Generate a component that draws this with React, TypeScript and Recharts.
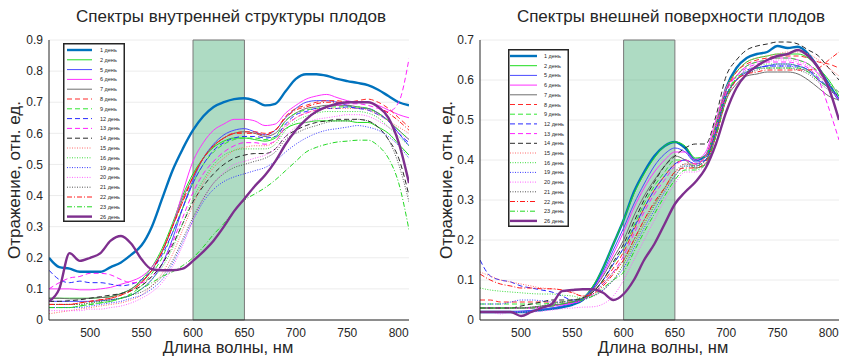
import { CartesianGrid, Line, LineChart, ReferenceArea, XAxis, YAxis } from "recharts";

// wavelength grid, nm
const WAVELENGTHS = [
  460, 470, 480, 490, 500, 510, 520, 530, 540, 550,
  560, 570, 580, 590, 600, 610, 620, 630, 640, 650,
  660, 670, 680, 690, 700, 710, 720, 730, 740, 750,
  760, 770, 780, 790, 800, 810,
];

const X_TICKS = [500, 550, 600, 650, 700, 750, 800];
const Y_TICKS_INNER = [0, 0.1, 0.2, 0.3, 0.4, 0.5, 0.6, 0.7, 0.8, 0.9];
const Y_TICKS_OUTER = [0, 0.1, 0.2, 0.3, 0.4, 0.5, 0.6, 0.7];

// inner structure spectra
const IN_1 = [0.20, 0.17, 0.165, 0.155, 0.155, 0.155, 0.17, 0.185, 0.21, 0.24, 0.30, 0.39, 0.48, 0.55, 0.61, 0.655, 0.685, 0.70, 0.71, 0.713, 0.705, 0.69, 0.695, 0.735, 0.775, 0.79, 0.79, 0.785, 0.775, 0.768, 0.762, 0.755, 0.74, 0.72, 0.70, 0.69];
const IN_2 = [0.07, 0.07, 0.07, 0.07, 0.07, 0.072, 0.075, 0.085, 0.10, 0.13, 0.17, 0.23, 0.31, 0.40, 0.47, 0.52, 0.555, 0.575, 0.585, 0.585, 0.58, 0.575, 0.585, 0.615, 0.63, 0.635, 0.64, 0.64, 0.64, 0.64, 0.635, 0.635, 0.62, 0.60, 0.565, 0.53];
const IN_5 = [0.06, 0.06, 0.06, 0.06, 0.06, 0.062, 0.065, 0.07, 0.08, 0.10, 0.13, 0.18, 0.26, 0.36, 0.45, 0.52, 0.565, 0.595, 0.61, 0.615, 0.605, 0.595, 0.61, 0.65, 0.68, 0.70, 0.705, 0.705, 0.70, 0.69, 0.68, 0.68, 0.665, 0.64, 0.60, 0.56];
const IN_6 = [0.10, 0.10, 0.10, 0.097, 0.097, 0.10, 0.105, 0.115, 0.125, 0.14, 0.17, 0.22, 0.30, 0.41, 0.51, 0.57, 0.61, 0.63, 0.645, 0.645, 0.64, 0.625, 0.63, 0.665, 0.69, 0.71, 0.72, 0.725, 0.715, 0.705, 0.70, 0.70, 0.69, 0.675, 0.66, 0.65];
const IN_7 = [0.07, 0.07, 0.068, 0.068, 0.07, 0.072, 0.075, 0.085, 0.10, 0.125, 0.16, 0.22, 0.30, 0.39, 0.46, 0.52, 0.56, 0.585, 0.60, 0.605, 0.60, 0.59, 0.60, 0.64, 0.665, 0.68, 0.685, 0.69, 0.69, 0.69, 0.685, 0.68, 0.665, 0.64, 0.61, 0.58];
const IN_8 = [0.05, 0.05, 0.05, 0.055, 0.06, 0.065, 0.07, 0.08, 0.095, 0.12, 0.16, 0.22, 0.30, 0.38, 0.46, 0.52, 0.56, 0.585, 0.60, 0.605, 0.605, 0.60, 0.61, 0.655, 0.68, 0.69, 0.70, 0.705, 0.705, 0.70, 0.705, 0.71, 0.70, 0.68, 0.65, 0.62];
const IN_9 = [0.04, 0.04, 0.04, 0.045, 0.05, 0.055, 0.06, 0.07, 0.085, 0.11, 0.15, 0.20, 0.28, 0.36, 0.44, 0.50, 0.54, 0.565, 0.58, 0.585, 0.585, 0.58, 0.59, 0.64, 0.665, 0.675, 0.68, 0.685, 0.685, 0.685, 0.685, 0.68, 0.665, 0.64, 0.61, 0.58];
const IN_12 = [0.16, 0.13, 0.12, 0.125, 0.12, 0.12, 0.115, 0.11, 0.115, 0.13, 0.16, 0.21, 0.28, 0.36, 0.44, 0.50, 0.545, 0.57, 0.585, 0.59, 0.59, 0.585, 0.59, 0.63, 0.66, 0.67, 0.68, 0.68, 0.68, 0.685, 0.68, 0.675, 0.66, 0.64, 0.60, 0.57];
const IN_13 = [0.10, 0.12, 0.135, 0.14, 0.15, 0.15, 0.145, 0.13, 0.12, 0.12, 0.14, 0.18, 0.25, 0.33, 0.41, 0.47, 0.51, 0.54, 0.56, 0.57, 0.57, 0.565, 0.575, 0.62, 0.65, 0.665, 0.675, 0.685, 0.69, 0.695, 0.695, 0.69, 0.68, 0.67, 0.70, 0.84];
const IN_14 = [0.06, 0.06, 0.062, 0.065, 0.07, 0.075, 0.08, 0.085, 0.095, 0.11, 0.14, 0.18, 0.24, 0.31, 0.38, 0.43, 0.47, 0.50, 0.52, 0.53, 0.535, 0.535, 0.55, 0.59, 0.61, 0.625, 0.635, 0.64, 0.645, 0.645, 0.645, 0.64, 0.62, 0.58, 0.52, 0.40];
const IN_15 = [0.02, 0.025, 0.03, 0.035, 0.04, 0.045, 0.05, 0.055, 0.065, 0.08, 0.11, 0.15, 0.21, 0.29, 0.37, 0.44, 0.49, 0.52, 0.545, 0.555, 0.56, 0.56, 0.575, 0.625, 0.65, 0.665, 0.675, 0.68, 0.68, 0.68, 0.68, 0.675, 0.66, 0.64, 0.62, 0.60];
const IN_16 = [0.05, 0.05, 0.05, 0.05, 0.055, 0.06, 0.065, 0.07, 0.08, 0.10, 0.13, 0.17, 0.23, 0.31, 0.39, 0.45, 0.50, 0.53, 0.545, 0.55, 0.55, 0.55, 0.565, 0.61, 0.64, 0.655, 0.665, 0.67, 0.67, 0.67, 0.67, 0.665, 0.65, 0.62, 0.59, 0.56];
const IN_19 = [0.04, 0.04, 0.04, 0.04, 0.045, 0.05, 0.055, 0.06, 0.07, 0.08, 0.10, 0.13, 0.18, 0.25, 0.32, 0.38, 0.42, 0.445, 0.46, 0.47, 0.48, 0.49, 0.51, 0.54, 0.565, 0.585, 0.60, 0.61, 0.615, 0.62, 0.625, 0.62, 0.61, 0.59, 0.56, 0.52];
const IN_20 = [0.03, 0.03, 0.03, 0.03, 0.035, 0.035, 0.04, 0.045, 0.055, 0.07, 0.09, 0.12, 0.17, 0.24, 0.32, 0.39, 0.44, 0.475, 0.50, 0.51, 0.52, 0.53, 0.55, 0.59, 0.62, 0.635, 0.645, 0.65, 0.655, 0.66, 0.66, 0.655, 0.64, 0.62, 0.60, 0.58];
const IN_21 = [0.05, 0.05, 0.05, 0.05, 0.055, 0.06, 0.065, 0.07, 0.08, 0.09, 0.11, 0.14, 0.19, 0.26, 0.33, 0.39, 0.44, 0.47, 0.49, 0.50, 0.51, 0.52, 0.54, 0.58, 0.60, 0.615, 0.625, 0.635, 0.64, 0.64, 0.645, 0.64, 0.62, 0.58, 0.50, 0.38];
const IN_22 = [0.05, 0.05, 0.05, 0.055, 0.06, 0.065, 0.07, 0.08, 0.095, 0.12, 0.16, 0.22, 0.30, 0.38, 0.46, 0.52, 0.56, 0.585, 0.60, 0.60, 0.60, 0.595, 0.61, 0.65, 0.675, 0.685, 0.695, 0.70, 0.70, 0.70, 0.70, 0.70, 0.685, 0.665, 0.64, 0.61];
const IN_23 = [0.04, 0.04, 0.04, 0.045, 0.05, 0.055, 0.06, 0.07, 0.08, 0.10, 0.12, 0.14, 0.155, 0.175, 0.20, 0.235, 0.275, 0.31, 0.35, 0.385, 0.405, 0.425, 0.45, 0.48, 0.51, 0.54, 0.555, 0.565, 0.572, 0.575, 0.578, 0.578, 0.56, 0.52, 0.44, 0.29];
const IN_26 = [0.06, 0.10, 0.215, 0.19, 0.20, 0.215, 0.255, 0.27, 0.245, 0.195, 0.163, 0.16, 0.16, 0.165, 0.19, 0.22, 0.255, 0.30, 0.35, 0.39, 0.43, 0.465, 0.51, 0.565, 0.61, 0.645, 0.67, 0.685, 0.695, 0.70, 0.70, 0.70, 0.685, 0.65, 0.57, 0.44];

// outer surface spectra
const OUT_1 = [0.02, 0.02, 0.02, 0.02, 0.02, 0.022, 0.025, 0.028, 0.032, 0.038, 0.05, 0.08, 0.13, 0.19, 0.25, 0.32, 0.37, 0.41, 0.435, 0.445, 0.43, 0.40, 0.41, 0.48, 0.58, 0.63, 0.655, 0.665, 0.67, 0.685, 0.68, 0.683, 0.665, 0.63, 0.59, 0.55];
const OUT_2 = [0.03, 0.03, 0.03, 0.03, 0.03, 0.03, 0.032, 0.035, 0.04, 0.045, 0.055, 0.085, 0.13, 0.19, 0.25, 0.315, 0.365, 0.405, 0.435, 0.445, 0.435, 0.405, 0.41, 0.49, 0.58, 0.62, 0.645, 0.655, 0.66, 0.665, 0.665, 0.665, 0.655, 0.63, 0.60, 0.56];
const OUT_5 = [0.02, 0.02, 0.02, 0.02, 0.022, 0.024, 0.027, 0.03, 0.035, 0.042, 0.055, 0.08, 0.12, 0.175, 0.23, 0.29, 0.34, 0.385, 0.415, 0.43, 0.42, 0.395, 0.40, 0.47, 0.56, 0.60, 0.62, 0.63, 0.635, 0.64, 0.64, 0.635, 0.625, 0.60, 0.58, 0.55];
const OUT_6 = [0.03, 0.03, 0.03, 0.03, 0.03, 0.03, 0.032, 0.035, 0.038, 0.042, 0.05, 0.075, 0.115, 0.165, 0.22, 0.28, 0.33, 0.37, 0.40, 0.42, 0.42, 0.40, 0.42, 0.50, 0.58, 0.61, 0.635, 0.645, 0.65, 0.655, 0.655, 0.65, 0.64, 0.615, 0.585, 0.55];
const OUT_7 = [0.03, 0.03, 0.03, 0.03, 0.03, 0.032, 0.035, 0.038, 0.04, 0.045, 0.055, 0.075, 0.11, 0.155, 0.20, 0.26, 0.31, 0.35, 0.385, 0.41, 0.40, 0.38, 0.39, 0.46, 0.55, 0.59, 0.61, 0.615, 0.62, 0.62, 0.62, 0.615, 0.60, 0.58, 0.56, 0.55];
const OUT_8 = [0.05, 0.05, 0.045, 0.045, 0.045, 0.045, 0.045, 0.045, 0.045, 0.045, 0.05, 0.07, 0.095, 0.13, 0.17, 0.225, 0.28, 0.325, 0.36, 0.39, 0.40, 0.39, 0.41, 0.48, 0.57, 0.62, 0.64, 0.65, 0.655, 0.66, 0.66, 0.66, 0.655, 0.645, 0.64, 0.63];
const OUT_9 = [0.04, 0.04, 0.04, 0.04, 0.04, 0.04, 0.04, 0.042, 0.045, 0.05, 0.055, 0.07, 0.10, 0.14, 0.18, 0.235, 0.29, 0.335, 0.37, 0.40, 0.40, 0.385, 0.40, 0.47, 0.56, 0.61, 0.635, 0.645, 0.65, 0.655, 0.655, 0.65, 0.64, 0.62, 0.59, 0.57];
const OUT_12 = [0.15, 0.11, 0.10, 0.095, 0.085, 0.08, 0.075, 0.07, 0.06, 0.05, 0.05, 0.07, 0.10, 0.14, 0.18, 0.23, 0.28, 0.325, 0.36, 0.39, 0.40, 0.39, 0.40, 0.47, 0.56, 0.60, 0.625, 0.63, 0.635, 0.635, 0.635, 0.635, 0.625, 0.605, 0.58, 0.56];
const OUT_13 = [0.03, 0.03, 0.03, 0.03, 0.03, 0.03, 0.032, 0.035, 0.038, 0.042, 0.05, 0.065, 0.09, 0.12, 0.16, 0.215, 0.27, 0.315, 0.35, 0.385, 0.40, 0.39, 0.41, 0.48, 0.57, 0.61, 0.63, 0.64, 0.645, 0.645, 0.645, 0.64, 0.63, 0.60, 0.53, 0.45];
const OUT_14 = [0.03, 0.03, 0.03, 0.03, 0.035, 0.04, 0.045, 0.05, 0.05, 0.05, 0.055, 0.07, 0.10, 0.145, 0.19, 0.245, 0.30, 0.345, 0.385, 0.41, 0.43, 0.44, 0.44, 0.51, 0.61, 0.65, 0.675, 0.685, 0.69, 0.695, 0.695, 0.69, 0.675, 0.66, 0.63, 0.60];
const OUT_15 = [0.12, 0.11, 0.10, 0.095, 0.09, 0.085, 0.08, 0.078, 0.075, 0.07, 0.06, 0.06, 0.075, 0.10, 0.14, 0.19, 0.24, 0.285, 0.325, 0.36, 0.39, 0.39, 0.41, 0.49, 0.58, 0.62, 0.645, 0.655, 0.66, 0.665, 0.67, 0.67, 0.665, 0.65, 0.63, 0.61];
const OUT_16 = [0.08, 0.075, 0.072, 0.07, 0.068, 0.066, 0.065, 0.065, 0.062, 0.06, 0.055, 0.06, 0.075, 0.10, 0.14, 0.19, 0.24, 0.285, 0.33, 0.36, 0.385, 0.38, 0.39, 0.47, 0.56, 0.60, 0.625, 0.635, 0.64, 0.64, 0.64, 0.635, 0.625, 0.61, 0.59, 0.57];
const OUT_19 = [0.04, 0.04, 0.04, 0.045, 0.05, 0.05, 0.048, 0.045, 0.045, 0.045, 0.05, 0.06, 0.075, 0.10, 0.13, 0.18, 0.23, 0.275, 0.32, 0.36, 0.385, 0.385, 0.40, 0.47, 0.56, 0.60, 0.62, 0.63, 0.635, 0.635, 0.635, 0.63, 0.62, 0.60, 0.58, 0.56];
const OUT_20 = [0.02, 0.02, 0.015, 0.02, 0.02, 0.02, 0.022, 0.025, 0.028, 0.03, 0.032, 0.033, 0.04, 0.06, 0.10, 0.15, 0.20, 0.25, 0.30, 0.34, 0.37, 0.37, 0.39, 0.46, 0.55, 0.60, 0.625, 0.635, 0.645, 0.65, 0.65, 0.645, 0.635, 0.615, 0.59, 0.57];
const OUT_21 = [0.03, 0.03, 0.03, 0.03, 0.03, 0.032, 0.035, 0.04, 0.045, 0.05, 0.055, 0.065, 0.09, 0.12, 0.15, 0.20, 0.25, 0.29, 0.33, 0.37, 0.39, 0.385, 0.40, 0.47, 0.56, 0.60, 0.615, 0.625, 0.63, 0.63, 0.63, 0.625, 0.615, 0.595, 0.575, 0.56];
const OUT_22 = [0.115, 0.10, 0.09, 0.085, 0.08, 0.08, 0.078, 0.078, 0.075, 0.068, 0.06, 0.065, 0.085, 0.115, 0.15, 0.20, 0.25, 0.295, 0.33, 0.37, 0.38, 0.38, 0.395, 0.46, 0.55, 0.60, 0.615, 0.62, 0.625, 0.625, 0.625, 0.625, 0.625, 0.63, 0.65, 0.67];
const OUT_23 = [0.03, 0.03, 0.03, 0.03, 0.03, 0.03, 0.032, 0.035, 0.04, 0.045, 0.05, 0.06, 0.08, 0.10, 0.12, 0.17, 0.22, 0.265, 0.31, 0.35, 0.375, 0.375, 0.39, 0.46, 0.55, 0.605, 0.62, 0.63, 0.63, 0.63, 0.63, 0.63, 0.62, 0.60, 0.58, 0.56];
const OUT_26 = [0.02, 0.02, 0.02, 0.02, 0.01, 0.02, 0.03, 0.04, 0.072, 0.075, 0.077, 0.077, 0.068, 0.05, 0.065, 0.10, 0.15, 0.19, 0.24, 0.29, 0.32, 0.345, 0.38, 0.44, 0.52, 0.58, 0.615, 0.635, 0.65, 0.66, 0.665, 0.675, 0.66, 0.63, 0.58, 0.50];

type SeriesStyle = { day: number; color: string; width: number; dash?: string };

const DASH = "5 3";
const DOT = "1 1.5";
const DASHDOT = "5 2 1 2";

const STYLES: SeriesStyle[] = [
  { day: 1, color: "#0072BD", width: 2.4 },
  { day: 2, color: "#1fdc1f", width: 1 },
  { day: 5, color: "#4a4aff", width: 1 },
  { day: 6, color: "#ff30ff", width: 1 },
  { day: 7, color: "#6e6e6e", width: 1 },
  { day: 8, color: "#ff2a2a", width: 1, dash: DASH },
  { day: 9, color: "#33e633", width: 1, dash: DASH },
  { day: 12, color: "#2a2aff", width: 1, dash: DASH },
  { day: 13, color: "#ff20ff", width: 1, dash: DASH },
  { day: 14, color: "#2b2b2b", width: 1, dash: DASH },
  { day: 15, color: "#ff6a6a", width: 1, dash: DOT },
  { day: 16, color: "#3cdc3c", width: 1, dash: DOT },
  { day: 19, color: "#3a3aff", width: 1, dash: DOT },
  { day: 20, color: "#ff60ff", width: 1, dash: DOT },
  { day: 21, color: "#555555", width: 1, dash: DOT },
  { day: 22, color: "#ff1a1a", width: 1, dash: DASHDOT },
  { day: 23, color: "#22d822", width: 1, dash: DASHDOT },
  { day: 26, color: "#7E2F8E", width: 2.4 },
];

const INNER: Record<number, number[]> = {
  1: IN_1, 2: IN_2, 5: IN_5, 6: IN_6, 7: IN_7, 8: IN_8, 9: IN_9, 12: IN_12, 13: IN_13,
  14: IN_14, 15: IN_15, 16: IN_16, 19: IN_19, 20: IN_20, 21: IN_21, 22: IN_22, 23: IN_23, 26: IN_26,
};

const OUTER: Record<number, number[]> = {
  1: OUT_1, 2: OUT_2, 5: OUT_5, 6: OUT_6, 7: OUT_7, 8: OUT_8, 9: OUT_9, 12: OUT_12, 13: OUT_13,
  14: OUT_14, 15: OUT_15, 16: OUT_16, 19: OUT_19, 20: OUT_20, 21: OUT_21, 22: OUT_22, 23: OUT_23, 26: OUT_26,
};

const FONT = '"Liberation Sans", Arial, sans-serif';
const TEXT_COLOR = "#262626";

function buildRows(series: Record<number, number[]>) {
  return WAVELENGTHS.map((wl, i) => {
    const row: Record<string, number> = { wl };
    for (const s of STYLES) row[`d${s.day}`] = series[s.day][i];
    return row;
  });
}

const fmtY = (v: number) => (v === 0 ? "0" : v.toFixed(1));

type PanelProps = {
  series: Record<number, number[]>;
  yMax: number;
  yTicks: number[];
  left: number;
  width: number;
  marginLeft: number;
  marginRight: number;
};

function SpectraPanel({ series, yMax, yTicks, left, width, marginLeft, marginRight }: PanelProps) {
  const data = buildRows(series);
  return (
    <div style={{ position: "absolute", left, top: 0 }}>
      <LineChart
        width={width}
        height={358}
        data={data}
        margin={{ top: 40, right: marginRight, bottom: 0, left: marginLeft }}
      >
        <CartesianGrid stroke="#ececec" vertical={false} />
        <XAxis
          dataKey="wl"
          type="number"
          domain={[460, 810]}
          ticks={X_TICKS}
          allowDataOverflow
          height={38}
          tickLine={false}
          tickSize={4}
          tickMargin={4}
          axisLine={{ stroke: TEXT_COLOR }}
          tick={{ fill: TEXT_COLOR, fontSize: 12, fontFamily: FONT }}
        />
        <YAxis
          type="number"
          domain={[0, yMax]}
          ticks={yTicks}
          allowDataOverflow
          width={40}
          tickLine={false}
          tickSize={3}
          tickMargin={3}
          tickFormatter={fmtY}
          axisLine={{ stroke: TEXT_COLOR }}
          tick={{ fill: TEXT_COLOR, fontSize: 12, fontFamily: FONT }}
        />
        {STYLES.map((s) => (
          <Line
            key={s.day}
            type="monotone"
            dataKey={`d${s.day}`}
            stroke={s.color}
            strokeWidth={s.width}
            strokeDasharray={s.dash}
            dot={false}
            isAnimationActive={false}
          />
        ))}
        <ReferenceArea
          x1={600}
          x2={650}
          y1={0}
          y2={yMax}
          fill="#35a468"
          fillOpacity={0.4}
          stroke="#7a7a7a"
          strokeWidth={1}
          ifOverflow="extendDomain"
        />
      </LineChart>
    </div>
  );
}

type LegendProps = { left: number; top: number; width: number; height: number; x1: number; x2: number; textX: number; rowH: number };

function LegendBox({ left, top, width, height, x1, x2, textX, rowH }: LegendProps) {
  return (
    <svg style={{ position: "absolute", left, top }} width={width} height={height}>
      <rect x={0.75} y={0.75} width={width - 1.5} height={height - 1.5} fill="#fff" stroke={TEXT_COLOR} strokeWidth={1.5} />
      {STYLES.map((s, i) => {
        const y = 7 + i * rowH;
        return (
          <g key={s.day}>
            <line x1={x1} x2={x2} y1={y} y2={y} stroke={s.color} strokeWidth={s.width} strokeDasharray={s.dash} />
            <text x={textX} y={y + 2} fontSize={5.5} fontFamily={FONT} fill={TEXT_COLOR}>
              {`${s.day} день`}
            </text>
          </g>
        );
      })}
    </svg>
  );
}

const titleStyle = (cx: number, cy: number, size: number) => ({
  position: "absolute" as const,
  left: cx - 200,
  top: cy - size * 0.55,
  width: 400,
  textAlign: "center" as const,
  fontSize: size,
  fontFamily: FONT,
  color: TEXT_COLOR,
  lineHeight: `${size * 1.1}px`,
  whiteSpace: "nowrap" as const,
});

const yLabelStyle = (cx: number) => ({
  position: "absolute" as const,
  left: cx - 100,
  top: 180 - 10,
  width: 200,
  textAlign: "center" as const,
  fontSize: 17,
  fontFamily: FONT,
  color: TEXT_COLOR,
  lineHeight: "20px",
  transform: "rotate(-90deg)",
  whiteSpace: "nowrap" as const,
});

export default function App() {
  return (
    <div style={{ position: "absolute", left: 0, top: 0, width: 843, height: 358, background: "#fff", overflow: "hidden" }}>
      <SpectraPanel series={INNER} yMax={0.9} yTicks={Y_TICKS_INNER} left={0} width={420} marginLeft={9} marginRight={11} />
      <SpectraPanel series={OUTER} yMax={0.7} yTicks={Y_TICKS_OUTER} left={420} width={423} marginLeft={20} marginRight={4} />

      <LegendBox left={63} top={43} width={62} height={179} x1={4} x2={29} textX={37} rowH={9.8} />
      <LegendBox left={508} top={49} width={61} height={178} x1={2} x2={29} textX={36} rowH={9.7} />

      <div style={titleStyle(231, 17, 17)}>Спектры внутренней структуры плодов</div>
      <div style={titleStyle(671, 17, 17)}>Спектры внешней поверхности плодов</div>
      <div style={titleStyle(228, 347, 16.5)}>Длина волны, нм</div>
      <div style={titleStyle(663, 347, 16.5)}>Длина волны, нм</div>
      <div style={yLabelStyle(15)}>Отражение, отн. ед.</div>
      <div style={yLabelStyle(447)}>Отражение, отн. ед.</div>
    </div>
  );
}
